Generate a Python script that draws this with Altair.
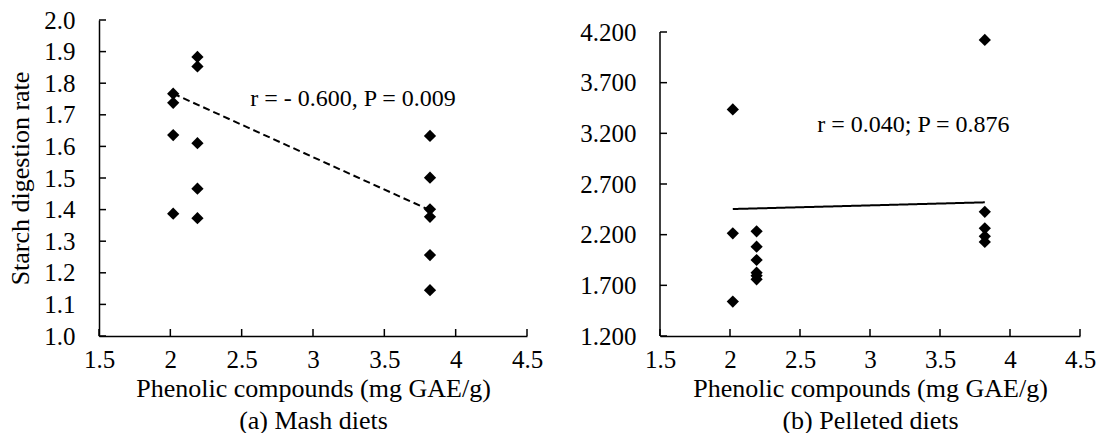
import altair as alt
import pandas as pd

# ---------------- data ----------------
# (a) Mash diets
mash_x = [2.02, 2.02, 2.02, 2.02,
          2.19, 2.19, 2.19, 2.19, 2.19,
          3.82, 3.82, 3.82, 3.82, 3.82, 3.82]
mash_y = [1.767, 1.738, 1.636, 1.387,
          1.883, 1.853, 1.610, 1.466, 1.373,
          1.633, 1.501, 1.401, 1.377, 1.256, 1.145]

# (b) Pelleted diets
pel_x = [2.02, 2.02, 2.02,
         2.19, 2.19, 2.19, 2.19, 2.19, 2.19,
         3.82, 3.82, 3.82, 3.82, 3.82]
pel_y = [3.436, 2.213, 1.540,
         2.233, 2.081, 1.950, 1.825, 1.795, 1.760,
         4.122, 2.426, 2.263, 2.184, 2.128]

# fitted trend lines (end points)
trend_x = [2.02, 3.82]
mash_trend = [1.767, 1.398]
pel_trend = [2.453, 2.519]

# annotation texts and their anchor (data units)
mash_note = "r = - 0.600, P = 0.009"
mash_note_xy = [3.28, 1.75]
pel_note = "r = 0.040; P = 0.876"
pel_note_xy = [3.31, 3.28]

# tick values
x_ticks = [1.5, 2.0, 2.5, 3.0, 3.5, 4.0, 4.5]
mash_y_ticks = [1.0, 1.1, 1.2, 1.3, 1.4, 1.5, 1.6, 1.7, 1.8, 1.9, 2.0]
pel_y_ticks = [1.2, 1.7, 2.2, 2.7, 3.2, 3.7, 4.2]

x_title = "Phenolic compounds (mg GAE/g)"
y_title = "Starch digestion rate"
captions = ["(a) Mash diets", "(b) Pelleted diets"]

FONT = "Liberation Serif"
H = 316


def panel(px, py, ty, note, note_xy, yticks, ydomain, yfmt, caption,
          ytitle, width, ydash, manual_ydomain):
    xs = alt.Scale(domain=[1.5, 4.5], nice=False, zero=False)
    ys = alt.Scale(domain=ydomain, nice=False, zero=False)
    xaxis = alt.Axis(values=x_ticks, format="~g", ticks=False, grid=False,
                     labelPadding=11, title=[x_title, caption],
                     titlePadding=3, titleLineHeight=32)
    yaxis = alt.Axis(values=yticks, format=yfmt, ticks=False, grid=False,
                     labelPadding=24, title=ytitle, titlePadding=10,
                     domain=not manual_ydomain)

    pts = pd.DataFrame({"x": px, "y": py})
    points = alt.Chart(pts).mark_point(
        shape="diamond", filled=True, color="black", size=150, opacity=1
    ).encode(x=alt.X("x:Q", scale=xs, axis=xaxis),
             y=alt.Y("y:Q", scale=ys, axis=yaxis))

    tr = pd.DataFrame({"x": trend_x, "y": ty})
    line = alt.Chart(tr).mark_line(
        color="black", strokeWidth=2, strokeDash=ydash if ydash else [1, 0]
    ).encode(x=alt.X("x:Q", scale=xs, axis=xaxis),
             y=alt.Y("y:Q", scale=ys, axis=yaxis))

    nd = pd.DataFrame({"x": [note_xy[0]], "y": [note_xy[1]], "t": [note]})
    text = alt.Chart(nd).mark_text(
        font=FONT, fontSize=24, color="black", align="center", baseline="middle"
    ).encode(x=alt.X("x:Q", scale=xs, axis=xaxis),
             y=alt.Y("y:Q", scale=ys, axis=yaxis), text="t:N")

    ytk = pd.DataFrame({"v": yticks})
    yticks_l = alt.Chart(ytk).mark_rule(color="black", strokeWidth=1.5).encode(
        x=alt.value(0), x2=alt.value(7),
        y=alt.Y("v:Q", scale=ys, axis=yaxis))

    xtk = pd.DataFrame({"v": x_ticks})
    xticks_l = alt.Chart(xtk).mark_rule(color="black", strokeWidth=1.5).encode(
        y=alt.value(H), y2=alt.value(H - 7),
        x=alt.X("v:Q", scale=xs, axis=xaxis))

    layers = [points, line, text, yticks_l, xticks_l]
    if manual_ydomain:
        dd = pd.DataFrame({"lo": [min(yticks)], "hi": [max(yticks)]})
        ydom = alt.Chart(dd).mark_rule(color="black", strokeWidth=1.5).encode(
            x=alt.value(0), y=alt.Y("lo:Q", scale=ys, axis=yaxis), y2="hi:Q")
        layers.append(ydom)

    return alt.layer(*layers).properties(width=width, height=H)


left = panel(mash_x, mash_y, mash_trend, mash_note, mash_note_xy,
             mash_y_ticks, [1.0, 2.0], ".1f", captions[0], y_title, 428,
             [7, 4], False)

# right panel: 3.0 units span 304 px, plot area is 316 px tall
pel_top = 1.2 + 3.0 * H / 304
right = panel(pel_x, pel_y, pel_trend, pel_note, pel_note_xy,
              pel_y_ticks, [1.2, pel_top], ".3f", captions[1], None, 420,
              None, True)

chart = alt.hconcat(left, right, spacing=36).properties(
    padding={"left": 7, "top": 8, "right": 0, "bottom": 0}
).configure_view(stroke=None).configure_axis(
    labelFont=FONT, titleFont=FONT, labelFontSize=25, titleFontSize=26,
    labelColor="black", titleColor="black", titleFontWeight="normal",
    domainColor="black", domainWidth=1.5, labelFlush=False,
    labelOverlap=False
)

chart.save("out.html", embed_options={"renderer": "svg", "actions": False})
